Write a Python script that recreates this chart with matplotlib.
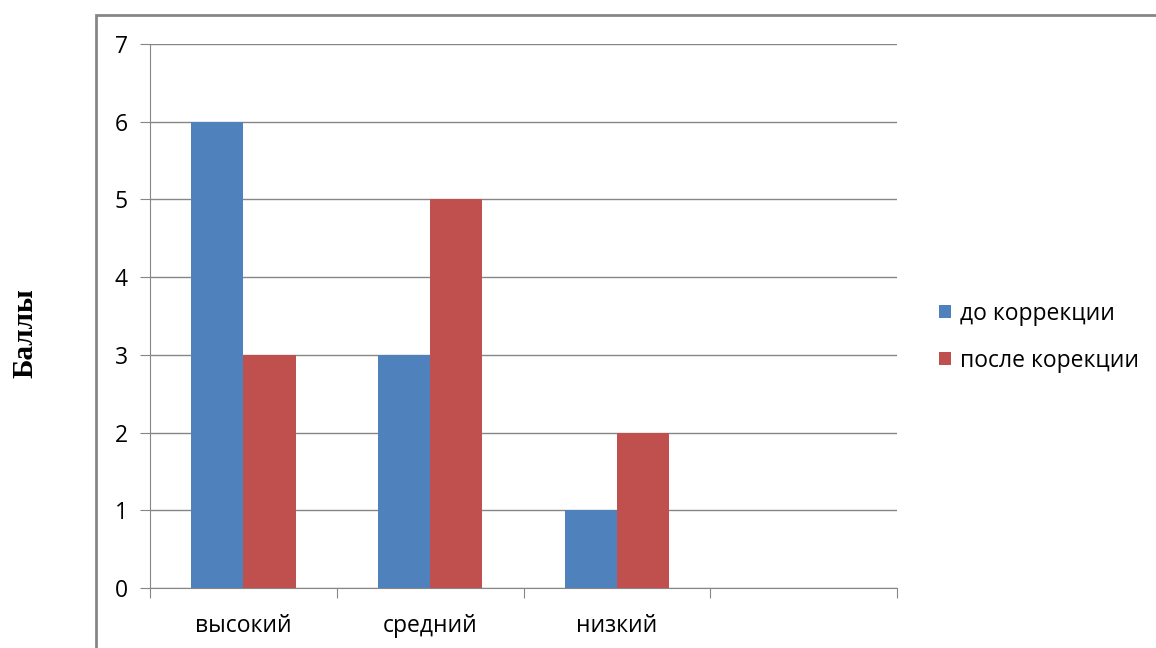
import numpy as np
import matplotlib.pyplot as plt
from matplotlib.patches import Rectangle

# уровни и баллы до/после коррекции
categories = ['высокий', 'средний', 'низкий', '']
do_korr = [6, 3, 1, 0]
posle_korr = [3, 5, 2, 0]
series_names = ['до коррекции', 'после корекции']

blue = '#4F81BD'
red = '#C0504D'
gray = '#868686'
fs = 16.5

plt.rcParams['font.family'] = ['Open Sans', 'DejaVu Sans']

fig = plt.figure(figsize=(11.56, 6.48), dpi=100)

# рамка диаграммы
fig.patches.append(Rectangle((96 / 1156, -0.1), 1.2, 1.1 - 15 / 648,
                             transform=fig.transFigure, fill=False,
                             edgecolor=gray, linewidth=2))

ax = fig.add_axes([150 / 1156, 1 - 588 / 648, 747 / 1156, 544 / 648])

x = np.arange(len(categories)) + 0.5
w = 0.28
n = 3  # пустая четвёртая категория без столбцов
ax.bar(x[:n] - w / 2, do_korr[:n], w, color=blue, label=series_names[0], zorder=3)
ax.bar(x[:n] + w / 2, posle_korr[:n], w, color=red, label=series_names[1], zorder=3)

ax.set_xlim(0, 4)
ax.set_ylim(0, 7)
ax.set_yticks(range(8))
ax.yaxis.grid(True, color=gray, linewidth=1)
ax.set_axisbelow(True)

ax.set_xticks(range(5))
ax.set_xticklabels([])
ax.set_xticks(x, minor=True)
ax.set_xticklabels(categories, minor=True)
ax.tick_params(axis='x', which='minor', length=0, pad=19, labelsize=fs)
ax.tick_params(axis='x', which='major', length=7, color=gray)
ax.tick_params(axis='y', length=7, color=gray, labelsize=fs, pad=9)

for s in ['top', 'right']:
    ax.spines[s].set_visible(False)
for s in ['left', 'bottom']:
    ax.spines[s].set_color(gray)

fig.text(25 / 1156, 1 - 333 / 648, 'Баллы', rotation=90, ha='center', va='center',
         family='Liberation Serif', fontweight='bold', fontsize=21)

ax.legend(loc='center left', bbox_to_anchor=(1.029, 0.461), frameon=False,
          fontsize=fs, handlelength=0.5, handleheight=0.5, handletextpad=0.4,
          labelspacing=1.0)

fig.savefig('out.png', dpi=100)
